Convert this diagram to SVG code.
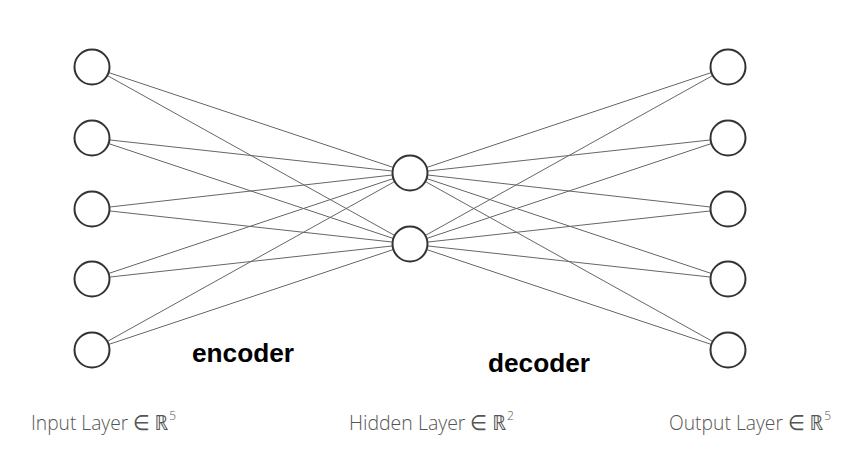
<svg xmlns="http://www.w3.org/2000/svg" width="867" height="463" viewBox="0 0 867 463">
<style>
.n{fill:#fff;stroke:#333;stroke-width:2}
.c line{stroke:#666;stroke-width:1}
.lab{font-family:"Open Sans","Noto Sans","DejaVu Sans",sans-serif;font-weight:300;font-size:21px;fill:#555}
.sup{font-size:13px}
.b{font-family:"Liberation Sans",Arial,sans-serif;font-weight:bold;font-size:26px;fill:#000}
</style>
<rect width="867" height="463" fill="#fff"/>
<g class="c" id="connectors">
<line x1="92" y1="67" x2="410" y2="173"/><line x1="92" y1="67" x2="410" y2="244"/>
<line x1="92" y1="138" x2="410" y2="173"/><line x1="92" y1="138" x2="410" y2="244"/>
<line x1="92" y1="209" x2="410" y2="173"/><line x1="92" y1="209" x2="410" y2="244"/>
<line x1="92" y1="279" x2="410" y2="173"/><line x1="92" y1="279" x2="410" y2="244"/>
<line x1="92" y1="350" x2="410" y2="173"/><line x1="92" y1="350" x2="410" y2="244"/>
<line x1="410" y1="173" x2="728" y2="67"/><line x1="410" y1="244" x2="728" y2="67"/>
<line x1="410" y1="173" x2="728" y2="138"/><line x1="410" y1="244" x2="728" y2="138"/>
<line x1="410" y1="173" x2="728" y2="209"/><line x1="410" y1="244" x2="728" y2="209"/>
<line x1="410" y1="173" x2="728" y2="279"/><line x1="410" y1="244" x2="728" y2="279"/>
<line x1="410" y1="173" x2="728" y2="350"/><line x1="410" y1="244" x2="728" y2="350"/>
</g>
<g id="in1"><circle class="n" cx="92" cy="67" r="17.5"/></g>
<g id="in2"><circle class="n" cx="92" cy="138" r="17.5"/></g>
<g id="in3"><circle class="n" cx="92" cy="209" r="17.5"/></g>
<g id="in4"><circle class="n" cx="92" cy="279" r="17.5"/></g>
<g id="in5"><circle class="n" cx="92" cy="350" r="17.5"/></g>
<g id="h1"><circle class="n" cx="410" cy="173" r="17.5"/></g>
<g id="h2"><circle class="n" cx="410" cy="244" r="17.5"/></g>
<g id="out1"><circle class="n" cx="728" cy="67" r="17.5"/></g>
<g id="out2"><circle class="n" cx="728" cy="138" r="17.5"/></g>
<g id="out3"><circle class="n" cx="728" cy="209" r="17.5"/></g>
<g id="out4"><circle class="n" cx="728" cy="279" r="17.5"/></g>
<g id="out5"><circle class="n" cx="728" cy="350" r="17.5"/></g>
<text class="b" x="192" y="362" textLength="102" lengthAdjust="spacingAndGlyphs">encoder</text>
<text class="b" x="488" y="372" textLength="102" lengthAdjust="spacingAndGlyphs">decoder</text>
<text class="lab" x="31" y="430" textLength="145" lengthAdjust="spacingAndGlyphs">Input Layer ∈ ℝ<tspan class="sup" dx="1" dy="-10">5</tspan></text>
<text class="lab" x="349" y="430" textLength="165" lengthAdjust="spacingAndGlyphs">Hidden Layer ∈ ℝ<tspan class="sup" dx="1" dy="-10">2</tspan></text>
<text class="lab" x="669" y="430" textLength="162" lengthAdjust="spacingAndGlyphs">Output Layer ∈ ℝ<tspan class="sup" dx="1" dy="-10">5</tspan></text>
</svg>
